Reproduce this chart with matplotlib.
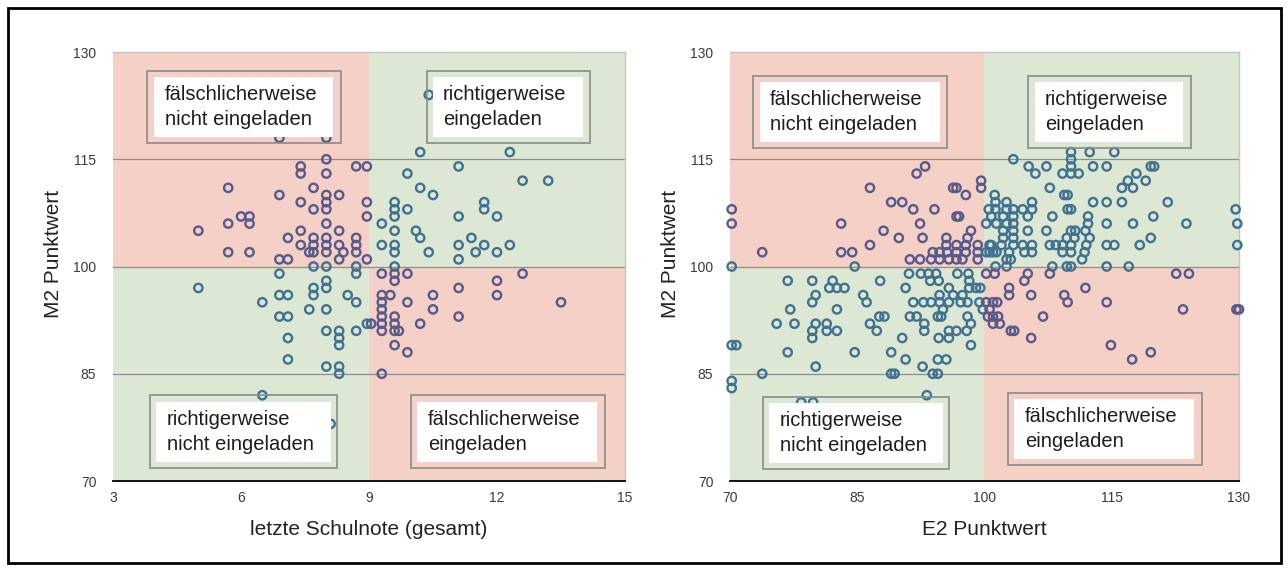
import matplotlib
matplotlib.use("Agg")
import matplotlib.pyplot as plt
from matplotlib.patches import Rectangle

plt.rcParams['font.family'] = ['Liberation Sans', 'DejaVu Sans']

W, H = 1288, 570

# ---------------- data ----------------
schul_x = [6.9, 8.0, 10.2, 8.0, 7.4, 7.4, 8.0, 8.7, 8.95, 9.9, 7.7, 10.2, 10.5, 5.7, 6.9, 8.0, 8.0, 8.0,
           8.3, 7.4, 7.7, 8.95, 8.95, 9.6, 9.6, 9.6, 9.9, 6.0, 6.2, 6.2, 8.0, 9.3, 7.4, 8.3, 9.6, 10.1,
           10.2, 7.1, 7.7, 8.0, 8.7, 7.4, 7.7, 8.0, 8.3, 8.7, 9.3, 9.6, 9.6, 7.6, 7.7, 8.0, 8.4, 8.7,
           6.2, 10.4, 6.9, 7.1, 8.3, 8.95, 7.7, 8.0, 8.7, 9.6, 6.9, 8.7, 9.3, 9.6, 9.6, 9.9, 8.0, 8.0,
           7.7, 7.7, 6.9, 7.1, 8.5, 8.7, 6.5, 9.3, 9.5, 9.3, 9.3, 9.3, 9.3, 9.3, 9.9, 10.5, 7.6, 8.0,
           6.9, 7.1, 9.6, 9.6, 9.6, 9.7, 10.2, 8.95, 9.05, 8.0, 8.3, 8.3, 8.3, 8.7, 7.1, 9.6, 9.9, 7.1,
           8.0, 8.3, 8.3, 9.3, 6.5, 5.0, 5.7, 5.7, 5.0, 8.1, 10.4, 12.3, 11.1, 12.6, 13.2, 11.7, 11.7,
           12.0, 11.1, 11.4, 11.7, 11.5, 12.0, 12.3, 11.1, 11.1, 12.6, 11.1, 12.0, 12.0, 10.5, 11.1, 13.5]
schul_m2 = [118, 118, 116, 115, 114, 113, 113, 114, 114, 113, 111, 111, 110, 111, 110, 110, 109, 108,
            110, 109, 108, 109, 107, 109, 108, 107, 108, 107, 107, 106, 106, 106, 105, 105, 105, 105,
            104, 104, 104, 104, 104, 103, 103, 103, 103, 103, 103, 103, 102, 102, 102, 102, 102, 102,
            102, 102, 101, 101, 101, 101, 100, 100, 100, 100, 99, 99, 99, 99, 98, 99, 98, 97,
            97, 96, 96, 96, 96, 95, 95, 96, 96, 95, 94, 93, 92, 91, 95, 96, 94, 94,
            93, 93, 93, 92, 91, 91, 92, 92, 92, 91, 91, 90, 89, 91, 90, 89, 88, 87,
            86, 86, 85, 85, 82, 105, 106, 102, 97, 78, 124, 116, 114, 112, 112, 109, 108,
            107, 107, 104, 103, 102, 102, 103, 103, 101, 99, 97, 98, 96, 94, 93, 95]

e2_x = [93, 92, 86.5, 99.6, 99.6, 96.3, 96.7, 97.8, 70.2, 70.2, 89, 90.3, 91.6, 94.1, 83.1, 92.4, 96.7, 97,
        88.1, 89.9, 92.7, 98.4, 73.8, 83.1, 84.4, 86.5, 95.5, 95.5, 96.7, 97.8, 98, 99.2, 93.9, 94.7,
        95.6, 96.7, 97.8, 99.2, 91.2, 92.4, 93.7, 94.7, 95.8, 96.7, 97.4, 99.2, 70.2, 84.7,
        # lower-left
        91.1, 92.5, 93.4, 94.3, 96.8, 98.1,
        76.8, 79.7, 82.1, 87.7, 93.6, 94.6, 98.2,
        81.7, 82.6, 83.5, 90.7, 95.8, 98.2, 99.0, 99.5,
        80.1, 85.7, 94.7, 96.3, 97.4,
        79.7, 86.1, 91.6, 92.8, 93.7, 94.7, 95.8, 97.2, 98.0, 99.4,
        77.1, 82.6, 95.1, 99.8,
        87.6, 88.2, 91.2, 92.0, 94.5, 94.9, 98.0,
        75.5, 77.6, 80.1, 81.4, 86.5, 92.9, 98.4,
        79.7, 81.4, 82.6, 87.3, 92.9, 95.8, 96.7, 97.9,
        79.7, 90.3, 94.6, 95.8,
        70.2, 70.75, 98.4,
        76.8, 84.7, 89.0,
        90.7, 94.5, 95.5,
        80.1, 92.7,
        73.8, 89.0, 89.4, 93.9, 94.5,
        70.2, 70.2, 93.2, 78.4, 79.8,
        # upper-right
        110.2, 112.4, 115.3, 110.2, 110.2, 109.2, 110.2, 111.1, 103.4, 105.2, 106, 107.3, 112.8, 114.4,
        119.6, 120, 117.9, 116.9, 119, 116.2, 117.5, 107.7, 109.4, 109.8, 101.2, 112.8, 114.4, 116.2,
        121.6, 109.8, 110.2, 108, 112.2, 112.2, 111.9, 112.4, 112, 111.8, 111.5, 114.4, 117.5, 119.9,
        123.8, 129.6, 129.8, 129.8, 107.3, 105.1, 110.2, 110.7, 109.7, 110.6, 107.7, 108.4, 109.2,
        110.2, 109.2, 110.2, 114.4, 115.3, 118.3, 119.6, 108, 109.7, 110.2, 114.4, 117, 102.6, 101.3,
        100.6, 101, 103.1,
        101.3, 101.3, 102.6, 102.6, 103.4, 104.5, 105.6, 105.6, 102.2, 103.4, 105.1, 103.4, 102.2,
        103.4, 102.2, 103.4, 103.4, 104.5, 105.6, 105.6, 104.7, 102.9, 102.6, 100.6,
        100.8, 100.2, 101.4, 102.6, 100.8, 102, 100.2, 101.4, 100.5,
        # lower-right
        101.2, 100.2, 105.1, 107.7, 104.7, 102.9, 102.9, 105.5, 109.4, 109.8, 111.9, 114.4, 106.9,
        103.1, 103.5, 105.5, 114.9, 119.6, 117.4, 122.6, 124.1, 123.4, 129.7, 130,
        100.2, 101, 101.5, 100.6, 100.4, 101, 101.6, 101, 101.8]
e2_m2 = [114, 113, 111, 112, 111, 111, 111, 110, 108, 106, 109, 109, 108, 108, 106, 106, 107, 107,
         105, 104, 104, 105, 102, 102, 102, 103, 104, 103, 103, 103, 104, 103, 102, 102,
         102, 102, 102, 102, 101, 101, 101, 101, 101, 101, 101, 101, 100, 100,
         99, 99, 99, 99, 99, 99,
         98, 98, 98, 98, 98, 98, 98,
         97, 97, 97, 97, 97, 97, 97, 97,
         96, 96, 96, 96, 96,
         95, 95, 95, 95, 95, 95, 95, 95, 95, 95,
         94, 94, 94, 94,
         93, 93, 93, 93, 93, 93, 93,
         92, 92, 92, 92, 92, 92, 92,
         91, 91, 91, 91, 91, 91, 91, 91,
         90, 90, 90, 90,
         89, 89, 89,
         88, 88, 88,
         87, 87, 87,
         86, 86,
         85, 85, 85, 85, 85,
         84, 83, 82, 81, 81,
         116, 116, 116, 115, 114, 113, 113, 113, 115, 114, 113, 114, 114, 114,
         114, 114, 113, 112, 112, 111, 111, 111, 110, 110, 110, 109, 109, 109,
         109, 108, 108, 107, 107, 106, 105, 104, 103, 102, 101, 106, 106, 107,
         106, 108, 106, 103, 105, 105, 105, 105, 104, 104, 103, 103, 103,
         103, 102, 102, 103, 103, 103, 104, 100, 100, 100, 100, 100, 100, 100,
         102, 102, 101,
         109, 108, 109, 108, 108, 108, 109, 108, 107, 107, 107, 106, 105,
         105, 104, 104, 103, 103, 103, 102, 102, 102, 101, 103,
         107, 106, 106, 106, 103, 103, 102, 102, 108,
         99, 99, 99, 99, 98, 97, 96, 96, 96, 95, 97, 95, 93,
         91, 91, 90, 89, 88, 87, 99, 99, 94, 94, 94,
         95, 95, 95, 94, 93, 93, 93, 92, 92]

schul_ticks = [3, 6, 9, 12, 15]
e2_ticks = [70, 85, 100, 115, 130]
m2_ticks = [70, 85, 100, 115, 130]

labels_left = ["fälschlicherweise\nnicht eingeladen", "richtigerweise\neingeladen",
               "richtigerweise\nnicht eingeladen", "fälschlicherweise\neingeladen"]

PINK = '#F4D0C6'
GREEN = '#DDE8D4'
TEAL = '#3F7190'
PURPLE = '#58598B'

fig = plt.figure(figsize=(W / 100, H / 100), dpi=100)


def fr(px, py):
    return px / W, 1 - py / H


def make_axes(x0, x1, y0=52, y1=481):
    return fig.add_axes([x0 / W, 1 - y1 / H, (x1 - x0) / W, (y1 - y0) / H])


def panel(ax, xs, ys, xlim, thr, xticks, xlabel):
    ax.set_xlim(*xlim)
    ax.set_ylim(70, 130)
    xmin, xmax = xlim
    ax.add_patch(Rectangle((xmin, 100), thr - xmin, 30, color=PINK, lw=0, zorder=0))
    ax.add_patch(Rectangle((thr, 70), xmax - thr, 30, color=PINK, lw=0, zorder=0))
    ax.add_patch(Rectangle((xmin, 70), thr - xmin, 30, color=GREEN, lw=0, zorder=0))
    ax.add_patch(Rectangle((thr, 100), xmax - thr, 30, color=GREEN, lw=0, zorder=0))
    for yv in (85, 100, 115):
        ax.axhline(yv, color='#8e8e8e', lw=0.9, zorder=1)
    ax.axhline(130, color='#c4c4c4', lw=1.0, zorder=1, clip_on=False)
    ax.axvline(xmax, color='#c4c4c4', lw=1.0, zorder=1, clip_on=False)
    cols = []
    for x, y in zip(xs, ys):
        wrong = (x < thr and y > 100) or (x > thr and y < 100)
        cols.append(PURPLE if wrong else TEAL)
    ax.scatter(xs, ys, s=36, facecolors='none', edgecolors=cols, linewidths=1.7,
               zorder=3, clip_on=False)
    for s in ('left', 'top', 'right'):
        ax.spines[s].set_visible(False)
    ax.spines['bottom'].set_color('black')
    ax.spines['bottom'].set_linewidth(1.3)
    ax.spines['bottom'].set_zorder(4)
    ax.set_xticks(xticks)
    ax.set_yticks(m2_ticks)
    ax.tick_params(length=0, labelsize=10, colors='#3a3a3a')
    ax.tick_params(axis='y', pad=12)
    ax.tick_params(axis='x', pad=7)
    ax.set_xlabel(xlabel, fontsize=15, color='#222222')
    ax.set_ylabel('M2 Punktwert', fontsize=15, color='#222222')
    ax.xaxis.set_label_coords(0.5, -0.09)
    ax.yaxis.set_label_coords(-0.098, 0.53)
    ax.set_facecolor('white')


def box(outer, inner, tx, text):
    (ox0, oy0, ox1, oy1) = outer
    (ix0, iy0, ix1, iy1) = inner
    a, b = fr(ox0, oy1)
    fig.add_artist(Rectangle((a, b), (ox1 - ox0) / W, (oy1 - oy0) / H, fill=False,
                             ec='#8a8a8a', lw=1.2, transform=fig.transFigure, zorder=5))
    a, b = fr(ix0, iy1)
    fig.add_artist(Rectangle((a, b), (ix1 - ix0) / W, (iy1 - iy0) / H, fc='white',
                             ec='none', transform=fig.transFigure, zorder=5))
    x, y = fr(tx, (iy0 + iy1) / 2)
    fig.text(x, y, text, ha='left', va='center', fontsize=14.5, color='#1c1c1c',
             linespacing=1.38, zorder=6)


axL = make_axes(113, 625)
panel(axL, schul_x, schul_m2, (3, 15), 9, schul_ticks, 'letzte Schulnote (gesamt)')
axR = make_axes(730, 1239)
panel(axR, e2_x, e2_m2, (70, 130), 100, e2_ticks, 'E2 Punktwert')

box((147, 71, 341, 143), (154, 77, 333, 137), 165, labels_left[0])
box((427, 71, 590, 143), (433, 77, 583, 137), 443, labels_left[1])
box((150, 395, 337, 468), (156, 402, 331, 462), 167, labels_left[2])
box((411, 395, 605, 468), (417, 402, 597, 462), 428, labels_left[3])

box((753, 76, 947, 148), (760, 82, 940, 142), 770, labels_left[0])
box((1028, 76, 1191, 148), (1035, 82, 1183, 142), 1045, labels_left[1])
box((763, 397, 949, 469), (769, 403, 943, 463), 780, labels_left[2])
box((1008, 393, 1202, 465), (1014, 399, 1194, 459), 1025, labels_left[3])

a, b = fr(8, 563)
fig.add_artist(Rectangle((a, b), (1281 - 8) / W, (563 - 8) / H, fill=False, ec='black',
                         lw=2, transform=fig.transFigure, zorder=10))

fig.savefig('out.png', dpi=100)
